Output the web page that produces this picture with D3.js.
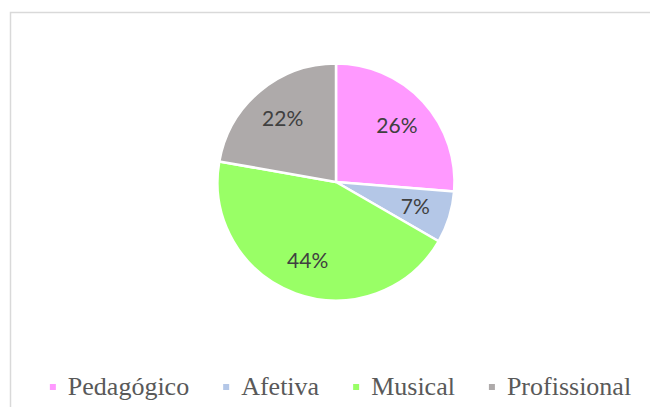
<!DOCTYPE html>
<html>
<head>
<meta charset="utf-8">
<script src="https://cdn.jsdelivr.net/npm/d3@7/dist/d3.min.js"></script>
<style>
  html, body { margin: 0; padding: 0; background: #fff; }
  svg { display: block; }
</style>
</head>
<body>
<svg id="chart" width="650" height="407"></svg>
<script>
const categories = ["Pedagógico", "Afetiva", "Musical", "Profissional"];
const values = [26, 7, 44, 22];
const colors = ["#FF99FF", "#B4C7E7", "#99FF66", "#AEAAAA"];

const svg = d3.select("#chart");
const W = 650, H = 407;

// outer frame
svg.append("rect")
  .attr("x", 10.5).attr("y", 12.5)
  .attr("width", W + 20).attr("height", H + 20)
  .attr("fill", "#fff")
  .attr("stroke", "#D9D9D9")
  .attr("stroke-width", 1.5);

const cx = 336, cy = 182, R = 118.5;
const data = categories.map((c, i) => ({ name: c, value: values[i], color: colors[i] }));
const total = d3.sum(values);

const pie = d3.pie().value(d => d.value).sort(null);
const arc = d3.arc().innerRadius(0).outerRadius(R);
const labelArc = d3.arc().innerRadius(R * 0.7).outerRadius(R * 0.7);

const g = svg.append("g").attr("transform", `translate(${cx},${cy})`);
const arcs = pie(data);

g.selectAll("path.slice")
  .data(arcs)
  .join("path")
  .attr("class", "slice")
  .attr("d", arc)
  .attr("fill", d => d.data.color)
  .attr("stroke", "#fff")
  .attr("stroke-width", 2.5)
  .attr("stroke-linejoin", "round");

g.selectAll("text.lbl")
  .data(arcs)
  .join("text")
  .attr("class", "lbl")
  .attr("transform", d => `translate(${labelArc.centroid(d)})`)
  .attr("text-anchor", "middle")
  .attr("dy", "0.36em")
  .style("font-family", '"Lato"')
  .style("font-size", "21px")
  .attr("fill", "#404040")
  .text(d => Math.round(d.data.value / total * 100) + "%");

// legend
const markerSize = 6, markerGap = 12, itemGap = 34;
const legendFont = '"Liberation Serif"';

// measure label widths first
const measure = svg.append("text")
  .style("font-family", legendFont).style("font-size", "26px");
const widths = data.map(d => {
  measure.text(d.name);
  return markerSize + markerGap + measure.node().getComputedTextLength();
});
measure.remove();

const totalW = d3.sum(widths) + itemGap * (widths.length - 1);
const starts = [];
let x0 = 340.5 - totalW / 2;
widths.forEach(w => { starts.push(x0); x0 += w + itemGap; });

const legend = svg.append("g");
const items = legend.selectAll("g.item")
  .data(data)
  .join("g")
  .attr("class", "item")
  .attr("transform", (d, i) => `translate(${starts[i]},0)`);

items.append("rect")
  .attr("width", markerSize).attr("height", markerSize)
  .attr("y", 384)
  .attr("fill", d => d.color);

items.append("text")
  .attr("x", markerSize + markerGap)
  .attr("y", 394.5)
  .style("font-family", legendFont)
  .style("font-size", "26px")
  .attr("fill", "#595959")
  .text(d => d.name);
</script>
</body>
</html>
